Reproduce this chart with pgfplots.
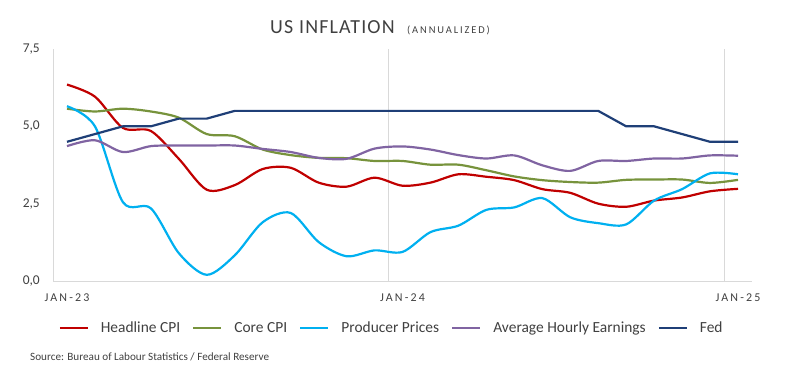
\documentclass[border=0pt]{standalone}
\usepackage{fontspec}
\setmainfont{Carlito}
\newfontfamily\titlefont[LetterSpace=6]{Carlito}
\newfontfamily\widefont[LetterSpace=18]{Carlito}
\usepackage{pgfplots}
\usepackage{pgfplotstable}
\pgfplotsset{compat=1.18}
\definecolor{cred}{HTML}{C00000}
\definecolor{cgreen}{HTML}{77933C}
\definecolor{cblue}{HTML}{00B0F0}
\definecolor{cpurple}{HTML}{8064A2}
\definecolor{cnavy}{HTML}{1F3F77}
\definecolor{txt}{HTML}{404040}
\definecolor{gridc}{HTML}{D9D9D9}

\pgfplotstableread{
i head core ppi ahe fed
0 6.35 5.57 5.65 4.36 4.5
1 5.96 5.48 5.00 4.55 4.75
2 4.95 5.57 2.55 4.17 5.0
3 4.85 5.48 2.35 4.36 5.0
4 3.95 5.28 0.90 4.38 5.25
5 2.95 4.75 0.20 4.38 5.25
6 3.10 4.68 0.83 4.38 5.5
7 3.62 4.25 1.90 4.27 5.5
8 3.66 4.07 2.20 4.17 5.5
9 3.18 3.98 1.26 3.98 5.5
10 3.05 3.97 0.80 3.95 5.5
11 3.34 3.88 0.99 4.28 5.5
12 3.08 3.88 0.94 4.35 5.5
13 3.18 3.76 1.58 4.25 5.5
14 3.45 3.76 1.79 4.07 5.5
15 3.37 3.58 2.30 3.96 5.5
16 3.26 3.38 2.38 4.06 5.5
17 2.97 3.26 2.68 3.74 5.5
18 2.85 3.20 2.06 3.56 5.5
19 2.50 3.18 1.87 3.88 5.5
20 2.40 3.27 1.83 3.88 5.0
21 2.60 3.28 2.60 3.96 5.0
22 2.70 3.28 2.97 3.96 4.75
23 2.90 3.17 3.48 4.06 4.5
24 2.98 3.27 3.45 4.05 4.5
}\datatable

\begin{document}
\begin{tikzpicture}
\useasboundingbox (0,0) rectangle (786bp,380bp);
\node[anchor=base west, inner sep=0, text=txt] at (270bp,346bp) {\fontsize{20}{24}\selectfont\titlefont US INFLATION};
\node[anchor=base west, inner sep=0, text=txt] at (407bp,346bp) {\fontsize{10.5}{12}\selectfont\widefont (ANNUALIZED)};
\node[anchor=base west, inner sep=0, text=txt] at (30bp,20bp) {\fontsize{11.2}{14}\selectfont Source: Bureau of Labour Statistics / Federal Reserve};
\begin{axis}[
  at={(53bp,99bp)}, anchor=south west, scale only axis,
  width=699bp, height=232bp,
  xmin=-0.5, xmax=24.5, ymin=0, ymax=7.5,
  axis x line=bottom, axis y line=left,
  axis line style={gridc, line width=0.9bp, -},
  xtick={0,12,24}, xticklabels={JAN-23,JAN-24,JAN-25},
  minor xtick={-0.5,11.5,23.5}, xminorgrids,
  minor grid style={gridc, line width=0.9bp},
  ytick={0,2.5,5,7.5}, yticklabels={{0,0},{2,5},{5,0},{7,5}},
  major tick length=0, minor tick length=0,
  xticklabel style={font=\fontsize{12}{14}\selectfont\widefont, text=txt, inner sep=0pt, yshift=-13bp},
  yticklabel style={font=\fontsize{13.5}{16}\selectfont, text=txt, inner sep=0pt, xshift=-13bp},
  legend style={at={(0.483,-0.203)}, anchor=center, draw=none, fill=none,
    legend columns=5, font=\fontsize{15.5}{18}\selectfont, text=txt,
    nodes={inner sep=0pt},
    /tikz/every odd column/.append style={column sep=12bp},
    /tikz/every even column/.append style={column sep=12bp}},
  legend image code/.code={\draw[#1] (0bp,0bp) -- (28bp,0bp);},
  every axis plot/.append style={line width=2.2bp},
]
\addplot[cred, smooth] table[x=i, y=head] {\datatable};
\addlegendentry{Headline CPI}
\addplot[cgreen, smooth] table[x=i, y=core] {\datatable};
\addlegendentry{Core CPI}
\addplot[cblue, smooth] table[x=i, y=ppi] {\datatable};
\addlegendentry{Producer Prices}
\addplot[cpurple, smooth] table[x=i, y=ahe] {\datatable};
\addlegendentry{Average Hourly Earnings}
\addplot[cnavy] table[x=i, y=fed] {\datatable};
\addlegendentry{Fed}
\end{axis}
\end{tikzpicture}
\end{document}
